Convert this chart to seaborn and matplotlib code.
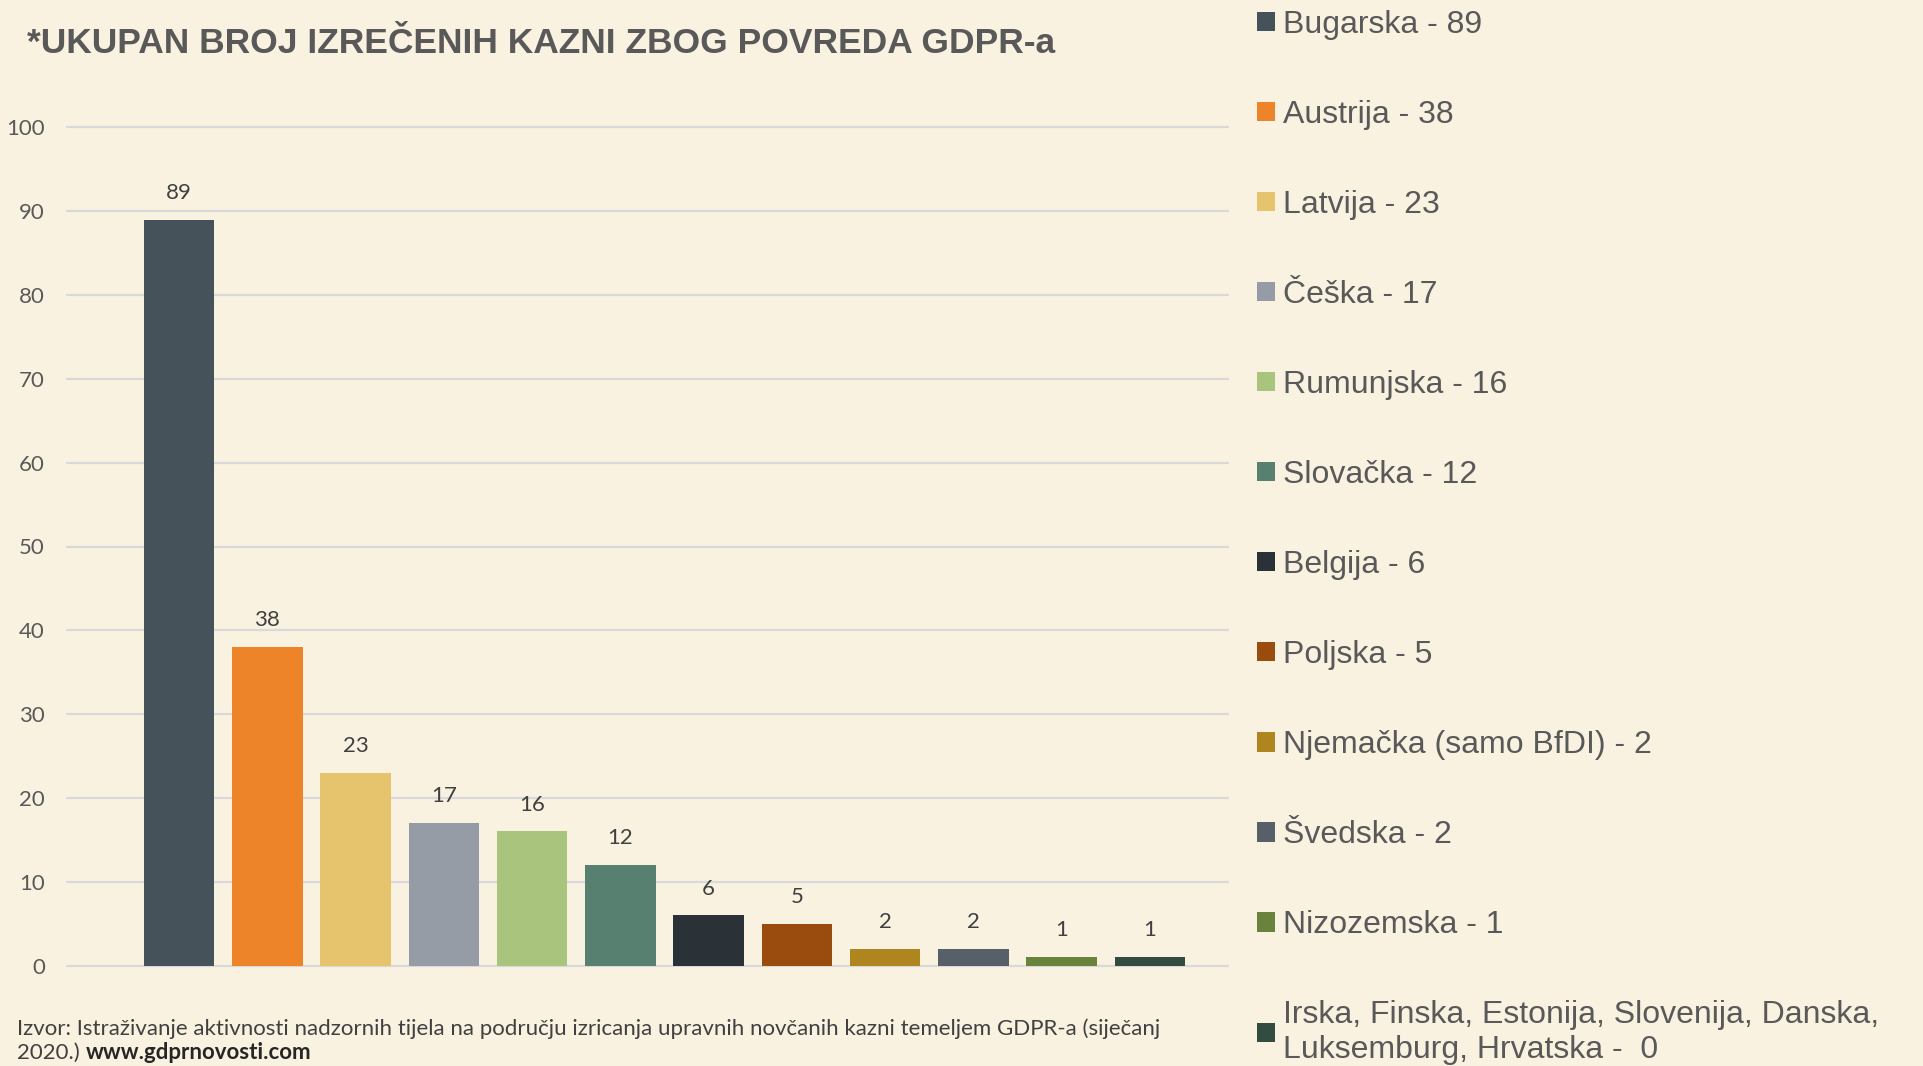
import pandas as pd
import matplotlib.pyplot as plt
import seaborn as sns
from matplotlib.font_manager import FontProperties

# Data
fines = [89, 38, 23, 17, 16, 12, 6, 5, 2, 2, 1, 1]
legend_labels = ['Bugarska - 89', 'Austrija - 38', 'Latvija - 23', 'Češka - 17',
                 'Rumunjska - 16', 'Slovačka - 12', 'Belgija - 6', 'Poljska - 5',
                 'Njemačka (samo BfDI) - 2', 'Švedska - 2', 'Nizozemska - 1',
                 'Irska, Finska, Estonija, Slovenija, Danska,\nLuksemburg, Hrvatska -  0']
colors = ['#465259', '#ED8429', '#E6C46E', '#959CA5', '#A8C47D', '#578070',
          '#2A3137', '#9A4C0E', '#AF8520', '#575F68', '#6A833C', '#334C42']
y_ticks = list(range(0, 101, 10))

bg = '#FAF2E1'
txt = '#595959'

df = pd.DataFrame({'label': legend_labels, 'fines': fines})

sns.set_style('white')
plt.rcParams['font.family'] = ['Lato', 'DejaVu Sans']

fig = plt.figure(figsize=(19.23, 10.66), dpi=100, facecolor=bg)
ax = fig.add_axes([67 / 1923, 1 - 965.5 / 1066, (1228 - 67) / 1923, (965.5 - 127.5) / 1066])
ax.set_facecolor(bg)

sns.barplot(data=df, x='label', y='fines', hue='label', order=legend_labels,
            hue_order=legend_labels, palette=colors, width=0.8, saturation=1,
            dodge=False, legend=True, linewidth=0, ax=ax)

# Value labels
for cont in ax.containers:
    ax.bar_label(cont, fmt='{:.0f}', padding=12, fontsize=16, color='#404040')

# Axes styling
ax.set_ylim(0, 100)
ax.set_xlim(-1.269, 11.884)
ax.set_yticks(y_ticks)
ax.tick_params(axis='y', length=0, pad=16, labelsize=16, labelcolor=txt)
ax.set_xticks([])
ax.set_xlabel('')
ax.set_ylabel('')
ax.grid(axis='y', color='#D9D9D9', linewidth=1.6)
ax.set_axisbelow(True)
for gl in ax.get_ygridlines():
    gl.set_clip_on(False)
for s in ax.spines.values():
    s.set_visible(False)

# Legend on the right
sns.move_legend(ax, 'upper left', bbox_to_anchor=(1257 / 1923, 0.991),
                bbox_transform=fig.transFigure, frameon=False, title=None,
                borderpad=0, borderaxespad=0, handlelength=0.5625,
                handleheight=0.5625, handletextpad=0.25, labelspacing=1.88,
                prop=FontProperties(family=['Liberation Sans', 'DejaVu Sans'], size=23))
for t in ax.get_legend().get_texts():
    t.set_color(txt)

# Title
fig.text(27 / 1923, 1 - 53 / 1066, '*UKUPAN BROJ IZREČENIH KAZNI ZBOG POVREDA GDPR-a',
         fontsize=25.5, fontweight='bold', color=txt, va='baseline',
         family=['Liberation Sans Narrow', 'Liberation Sans', 'DejaVu Sans'])

# Source
fig.text(17 / 1923, 1 - 1035 / 1066,
         'Izvor: Istraživanje aktivnosti nadzornih tijela na području izricanja upravnih '
         'novčanih kazni temeljem GDPR-a (siječanj',
         fontsize=16, color='#404040', va='baseline')
t2 = fig.text(17 / 1923, 1 - 1059 / 1066, '2020.)', fontsize=16, color='#404040', va='baseline')
fig.canvas.draw()
bb = t2.get_window_extent()
fig.text((bb.x1 + 6) / 1923, 1 - 1059 / 1066, 'www.gdprnovosti.com', fontsize=16,
         fontweight='bold', color='#262626', va='baseline')

fig.savefig('out.png', dpi=100, facecolor=bg)
